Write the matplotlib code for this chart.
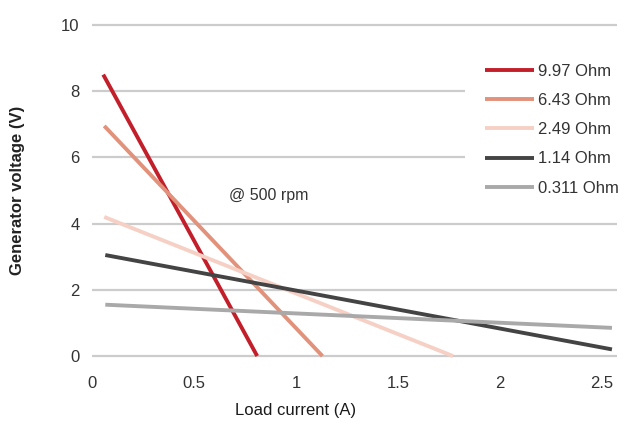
import matplotlib
matplotlib.use("Agg")
import matplotlib.pyplot as plt
from matplotlib.patches import Rectangle

plt.rcParams["font.family"] = ["Liberation Sans", "DejaVu Sans"]

# Straight load lines: (current start, voltage start) -> (current end, voltage end)
labels = ["9.97 Ohm", "6.43 Ohm", "2.49 Ohm", "1.14 Ohm", "0.311 Ohm"]
current = [
    [0.055, 0.81],
    [0.06, 1.13],
    [0.06, 1.77],
    [0.065, 2.55],
    [0.065, 2.55],
]
voltage = [
    [8.5, 0.0],
    [6.95, 0.0],
    [4.2, 0.0],
    [3.05, 0.2],
    [1.55, 0.85],
]
colors = ["#c21f2b", "#e2917b", "#f6d0c4", "#444444", "#a9a9a9"]

fig = plt.figure(figsize=(6.29, 4.42), dpi=100)
ax = fig.add_axes([0.1463, 0.1833, 0.8347, 0.7715])

for x, y, c, lab in zip(current, voltage, colors, labels):
    ax.plot(x, y, color=c, lw=2.8, label=lab, solid_capstyle="butt")

ax.set_xlim(0, 2.575)
ax.set_ylim(-0.15, 10.15)
ax.set_xticks([0, 0.5, 1, 1.5, 2, 2.5])
ax.set_xticklabels(["0", "0.5", "1", "1.5", "2", "2.5"])
ax.set_yticks([0, 2, 4, 6, 8, 10])
ax.yaxis.grid(True, color="#cccccc", lw=1.6)
ax.set_axisbelow(True)
for s in ax.spines.values():
    s.set_visible(False)
ax.tick_params(length=0, labelsize=12, labelcolor="#333333")
ax.tick_params(axis="x", pad=11)
ax.tick_params(axis="y", pad=9)

# white box behind the legend hides the grid there
ax.add_patch(Rectangle((0.71, 0.457), 0.30, 0.455, transform=ax.transAxes,
                       facecolor="white", edgecolor="none", zorder=1.5,
                       clip_on=False))

ax.set_xlabel("Load current (A)", fontsize=12, color="#1a1a1a")
ax.xaxis.set_label_coords(0.387, -0.144)
ax.xaxis.label.set_va("center")
ax.set_ylabel("Generator voltage (V)", fontsize=12, fontweight="bold",
              color="#222222")
ax.yaxis.set_label_coords(-0.141, 0.5)
ax.yaxis.label.set_va("center")

ax.text(0.67, 4.85, "@ 500 rpm", fontsize=11.5, color="#333333",
        ha="left", va="center")

leg = ax.legend(loc="upper left", bbox_to_anchor=(0.749, 0.871), frameon=False,
                fontsize=12, handlelength=2.9, labelspacing=0.85, borderpad=0,
                borderaxespad=0, handletextpad=0.25)
for t in leg.get_texts():
    t.set_color("#333333")

fig.savefig("out.png")
